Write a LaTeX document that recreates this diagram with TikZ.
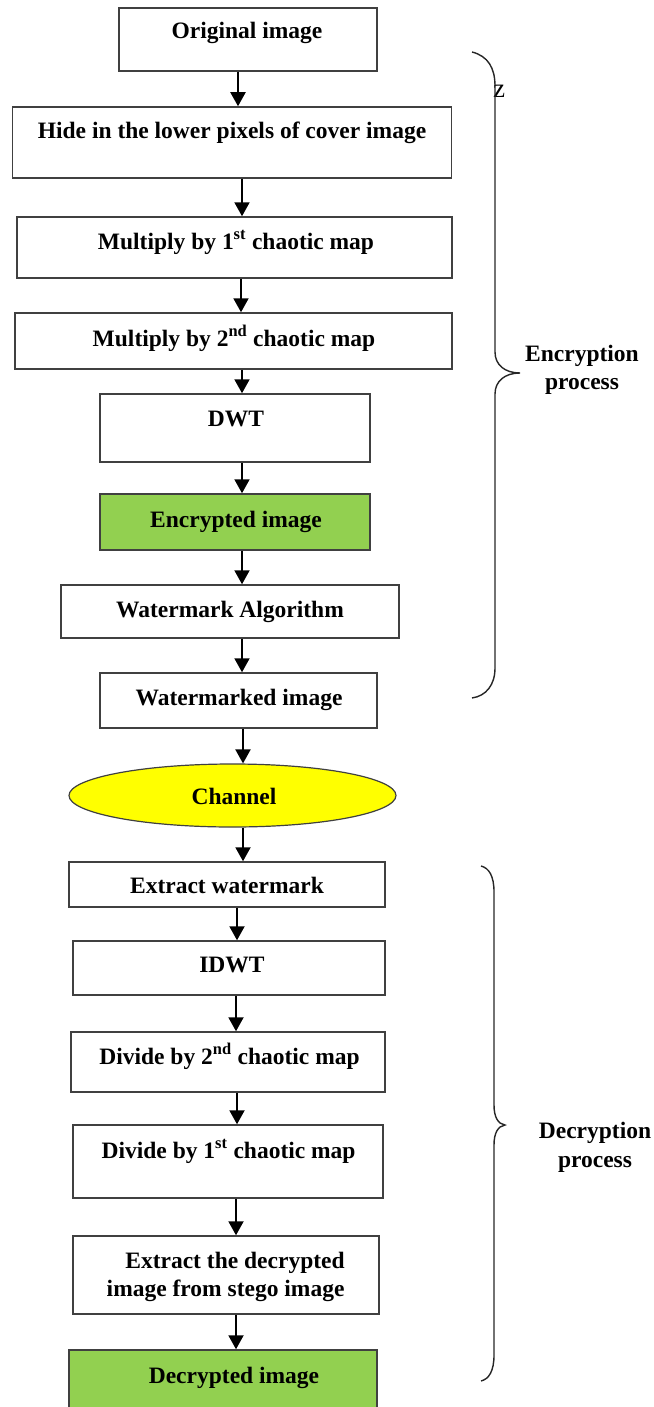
\documentclass[tikz,border=0pt]{standalone}
\usepackage{fontspec}
\setmainfont{Liberation Serif}
\usetikzlibrary{arrows.meta,shapes.geometric}
\definecolor{boxgreen}{HTML}{92D050}
\definecolor{chanyellow}{HTML}{FFFF00}
\tikzset{
  box/.style={draw=black!75, line width=1.5pt, rectangle, inner sep=0pt, fill=white},
  greenbox/.style={box, fill=boxgreen},
  chanshape/.style={draw=black!75, line width=1.2pt, ellipse, inner sep=0pt, fill=chanyellow},
  lbl/.style={font=\bfseries\fontsize{23.5}{28}\selectfont, inner sep=0pt, anchor=base},
  arr/.style={line width=2pt, -{Triangle[length=14pt,width=15pt]}},
  brace/.style={line width=1.4pt, draw=black!85},
}
\begin{document}
\begin{tikzpicture}[x=1pt,y=-1pt]
\useasboundingbox (0,0) rectangle (653,1407);
\clip (0,0) rectangle (653,1407);
% boxes
\node[box, minimum width=258, minimum height=63] (orig) at (248,39.5) {};
\node[box, minimum width=439, minimum height=71] (hide) at (232,142.5) {};
\node[box, minimum width=435, minimum height=61] (mulA) at (234.5,247.5) {};
\node[box, minimum width=437, minimum height=56] (mulB) at (233.5,341) {};
\node[box, minimum width=270, minimum height=68] (dwt) at (235,428) {};
\node[greenbox, minimum width=270, minimum height=56] (enc) at (235,522) {};
\node[box, minimum width=338, minimum height=53] (wma) at (230,611.5) {};
\node[box, minimum width=277, minimum height=55] (wmd) at (238.5,700.5) {};
\node[chanshape, minimum width=327, minimum height=63] (chan) at (232.5,795.5) {};
\node[box, minimum width=316, minimum height=45] (exw) at (227,884.5) {};
\node[box, minimum width=312, minimum height=54] (idwt) at (229,968) {};
\node[box, minimum width=314, minimum height=60] (divB) at (228,1062) {};
\node[box, minimum width=310, minimum height=73] (divA) at (228,1161.5) {};
\node[box, minimum width=306, minimum height=78] (exd) at (226,1275) {};
\node[greenbox, minimum width=308, minimum height=80] (dec) at (223,1390) {};
% labels
\node[lbl] (tOrig) at (247,39) {Original image};
\node[lbl] (tHide) at (232,139) {Hide in the lower pixels of cover image};
\node[lbl] (tMulA) at (236,249) {Multiply by 1\textsuperscript{st} chaotic map};
\node[lbl] (tMulB) at (234,346) {Multiply by 2\textsuperscript{nd} chaotic map};
\node[lbl] (tDwt) at (236,426) {DWT};
\node[lbl] (tEnc) at (236,527) {Encrypted image};
\node[lbl] (tWma) at (230,617) {Watermark Algorithm};
\node[lbl] (tWmd) at (239,705) {Watermarked image};
\node[lbl] (tChan) at (234,804) {Channel};
\node[lbl] (tExw) at (227,893) {Extract watermark};
\node[lbl] (tIdwt) at (232,972) {IDWT};
\node[lbl] (tDivB) at (229.5,1064) {Divide by 2\textsuperscript{nd} chaotic map};
\node[lbl] (tDivA) at (228.6,1158) {Divide by 1\textsuperscript{st} chaotic map};
\node[lbl] (tExdA) at (235,1268) {Extract the decrypted};
\node[lbl] (tExdB) at (225.6,1296) {image from stego image};
\node[lbl] (tDec) at (234,1383) {Decrypted image};
\node[lbl] (tEncP) at (582,361) {Encryption};
\node[lbl] (tEncQ) at (582,389) {process};
\node[lbl] (tDecP) at (595,1138) {Decryption};
\node[lbl] (tDecQ) at (595,1167) {process};
\node[font=\fontsize{27}{27}\selectfont, inner sep=0pt, anchor=base] (zz) at (499,98) {z};
% arrow columns
\coordinate (c1) at (238,0);
\coordinate (c2) at (242,0);
\coordinate (c3) at (241,0);
\coordinate (c4) at (243,0);
\coordinate (c5) at (237,0);
\coordinate (c6) at (236,0);
\draw[arr] (orig.south -| c1) -- (hide.north -| c1);
\draw[arr] (hide.south -| c2) -- (mulA.north -| c2);
\draw[arr] (mulA.south -| c3) -- (mulB.north -| c3);
\draw[arr] (mulB.south -| c2) -- (dwt.north -| c2);
\draw[arr] (dwt.south -| c2) -- (enc.north -| c2);
\draw[arr] (enc.south -| c2) -- (wma.north -| c2);
\draw[arr] (wma.south -| c2) -- (wmd.north -| c2);
\draw[arr] (wmd.south -| c4) -- (chan.north -| c4);
\draw[arr] (chan.south -| c4) -- (exw.north -| c4);
\draw[arr] (exw.south -| c5) -- (idwt.north -| c5);
\draw[arr] (idwt.south -| c6) -- (divB.north -| c6);
\draw[arr] (divB.south -| c5) -- (divA.north -| c5);
\draw[arr] (divA.south -| c6) -- (exd.north -| c6);
\draw[arr] (exd.south -| c6) -- (dec.north -| c6);
% braces
\draw[brace] (472,52) .. controls (488,56) and (495,68) .. (495,86)
  -- (495,352) .. controls (495,365) and (505,373) .. (520,373)
  .. controls (505,373) and (495,381) .. (495,394)
  -- (495,668) .. controls (495,685) and (486,696) .. (472,698);
\draw[brace] (481,866) .. controls (489,868) and (494,876) .. (494,892)
  -- (494,1105) .. controls (494,1117) and (498,1124) .. (505,1125)
  .. controls (498,1126) and (494,1133) .. (494,1145)
  -- (494,1355) .. controls (494,1371) and (489,1379) .. (481,1381);
\end{tikzpicture}
\end{document}
